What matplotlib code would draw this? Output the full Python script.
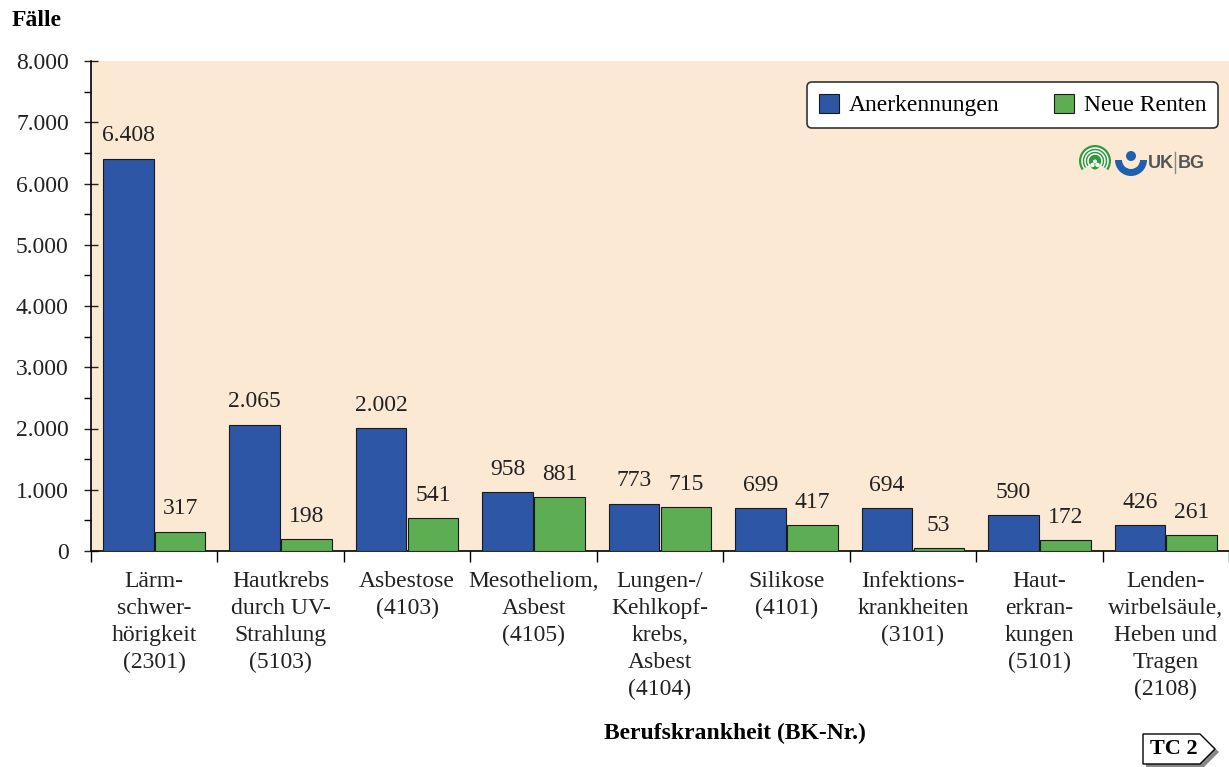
import matplotlib
matplotlib.use("Agg")
import matplotlib.pyplot as plt
import numpy as np
from matplotlib.patches import Polygon, Circle, Wedge, Arc
from matplotlib.ticker import FuncFormatter, MultipleLocator

categories = [
    "Lärm-\nschwer-\nhörigkeit\n(2301)",
    "Hautkrebs\ndurch UV-\nStrahlung\n(5103)",
    "Asbestose\n(4103)",
    "Mesotheliom,\nAsbest\n(4105)",
    "Lungen-/\nKehlkopf-\nkrebs,\nAsbest\n(4104)",
    "Silikose\n(4101)",
    "Infektions-\nkrankheiten\n(3101)",
    "Haut-\nerkran-\nkungen\n(5101)",
    "Lenden-\nwirbelsäule,\nHeben und\nTragen\n(2108)",
]
anerkennungen = [6408, 2065, 2002, 958, 773, 699, 694, 590, 426]
neue_renten = [317, 198, 541, 881, 715, 417, 53, 172, 261]
series_names = ["Anerkennungen", "Neue Renten"]

BLUE = "#2E56A6"
GREEN = "#5DAE52"
BG = "#FCE9D4"
FS = 17

plt.rcParams['font.family'] = ['Liberation Serif', 'DejaVu Serif']

fig = plt.figure(figsize=(12.29, 7.67), dpi=100)
ax = fig.add_axes([91/1229, 1-551/767, 1-91/1229, (551-61)/767])
ax.set_facecolor(BG)

x = np.arange(len(categories))
w = 0.40
off = 0.205
b1 = ax.bar(x - off, anerkennungen, w, color=BLUE, edgecolor="#1a1a1a", linewidth=0.8, label=series_names[0], zorder=3)
b2 = ax.bar(x + off, neue_renten, w, color=GREEN, edgecolor="#1a1a1a", linewidth=0.8, label=series_names[1], zorder=3)

def fmt(v):
    return f"{int(v):,}".replace(",", ".")

for bars, vals in ((b1, anerkennungen), (b2, neue_renten)):
    for r, v in zip(bars, vals):
        ax.text(r.get_x() + r.get_width()/2, v + 200, fmt(v), ha="center", va="bottom",
                fontsize=FS, color="#222222")

ax.set_xlim(-0.5, len(categories) - 0.5)
ax.set_ylim(0, 8000)
ax.yaxis.set_major_locator(MultipleLocator(1000))
ax.yaxis.set_minor_locator(MultipleLocator(500))
ax.yaxis.set_major_formatter(FuncFormatter(lambda v, p: fmt(v)))
ax.tick_params(axis="y", which="major", direction="inout", length=10, width=1, labelsize=FS, pad=11, colors="#222222")
ax.tick_params(axis="y", which="minor", direction="out", length=5, width=1)

ax.set_xticks(np.arange(len(categories) + 1) - 0.5, minor=False)
ax.set_xticklabels([])
ax.tick_params(axis="x", which="major", direction="out", length=8, width=1)
for i, lab in enumerate(categories):
    ax.text(i, -320, lab, ha="center", va="top", fontsize=FS, linespacing=1.375, color="#222222")

for s in ("top", "right"):
    ax.spines[s].set_visible(False)
ax.spines["left"].set_linewidth(1.2)
ax.spines["bottom"].set_linewidth(1.2)

leg = ax.legend(loc="upper right", ncol=2, fontsize=FS, frameon=True, fancybox=True, edgecolor="#333333",
                handlelength=0.85, handleheight=0.85, columnspacing=2.3, borderpad=0.5,
                handletextpad=0.42, borderaxespad=0)
leg.get_frame().set_linewidth(1.2)
leg.get_frame().set_facecolor("white")
leg.get_frame().set_alpha(1)
leg.set_bbox_to_anchor((1218/1229, 1-82/767), transform=fig.transFigure)

fig.text(12/1229, 1-21/767, "Fälle", fontsize=FS, fontweight="bold", ha="left", va="center")
fig.text(735/1229, 1-733/767, "Berufskrankheit (BK-Nr.)", fontsize=FS, fontweight="bold", ha="center", va="center")

# TC 2 box
def fx(px):
    return px/1229
def fy(py):
    return 1-py/767
shadow = Polygon([(fx(1146), fy(737)), (fx(1203), fy(737)), (fx(1219), fy(752)), (fx(1203), fy(768)), (fx(1146), fy(768))],
                 closed=True, transform=fig.transFigure, facecolor="#888888", edgecolor="none")
box = Polygon([(fx(1143), fy(734)), (fx(1200), fy(734)), (fx(1215), fy(749)), (fx(1200), fy(764)), (fx(1143), fy(764))],
              closed=True, transform=fig.transFigure, facecolor="white", edgecolor="black", linewidth=1)
fig.patches.extend([shadow, box])
fig.text(fx(1174), fy(749), "TC 2", fontsize=16, fontweight="bold", ha="center", va="center")

# Logo approximation (pixel-based local coords)
lax = fig.add_axes([1075/1229, 1-182/767, 140/1229, 42/767])
lax.set_xlim(0, 140)
lax.set_ylim(0, 42)
lax.axis("off")
lg = "#2E9A3E"
lax.add_patch(Circle((20, 21), 16, facecolor=lg, edgecolor="none"))
for r in (13, 10, 7):
    lax.add_patch(Arc((20, 21), 2*r, 2*r, theta1=0, theta2=360, color="white", lw=1.1))
lax.add_patch(Wedge((20, 21), 16.5, 215, 325, facecolor=BG, edgecolor="none"))
lax.add_patch(Circle((20, 17), 4.5, facecolor=lg, edgecolor="none"))
lax.add_patch(Circle((17.5, 17), 2.2, facecolor="white", edgecolor="none"))
lax.add_patch(Circle((22.5, 17), 2.2, facecolor="white", edgecolor="none"))
lax.add_patch(Circle((20, 20.5), 2.0, facecolor="white", edgecolor="none"))
lb = "#1F5FB0"
lax.add_patch(Wedge((56, 22), 16, 180, 360, width=7, facecolor=lb, edgecolor="none"))
lax.add_patch(Circle((56, 26), 5, facecolor=lb, edgecolor="none"))
lax.text(73, 19, "UK", fontsize=13, fontweight="bold", color="#555555", ha="left", va="center", family="Liberation Sans")
lax.plot([100, 100], [9, 30], color="#888888", lw=1)
lax.text(103, 19, "BG", fontsize=13, fontweight="bold", color="#555555", ha="left", va="center", family="Liberation Sans")

fig.savefig("out.png", dpi=100)
